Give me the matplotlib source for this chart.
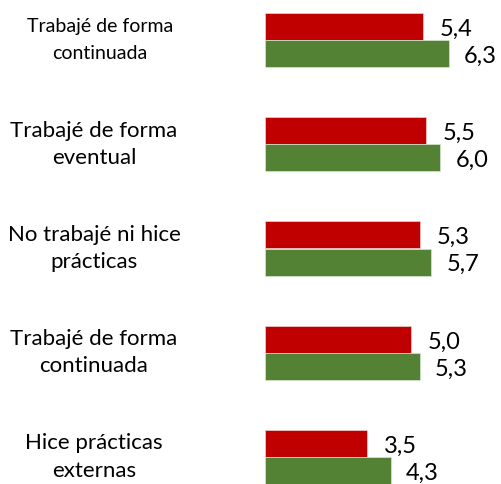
import matplotlib.pyplot as plt
import matplotlib.transforms as mtransforms
import numpy as np

plt.rcParams['font.family'] = ['Lato', 'DejaVu Sans']

categorias = ["Trabajé de forma\ncontinuada",
              "Trabajé de forma\neventual",
              "No trabajé ni hice\nprácticas",
              "Trabajé de forma\ncontinuada",
              "Hice prácticas\nexternas"]
serie_roja = [5.4, 5.5, 5.3, 5.0, 3.5]
serie_verde = [6.3, 6.0, 5.7, 5.3, 4.3]
tam_etiqueta = [14, 16, 16, 16, 16]
interlineado = [1.75, 1.45, 1.45, 1.45, 1.45]
centro_x = [100, 94, 94, 94, 94]

rojo = '#C00000'
verde = '#548235'

fig = plt.figure(figsize=(5.01, 4.84), dpi=100)
ax = fig.add_axes([265 / 501, 0, 1 - 265 / 501, 1])

y = np.arange(len(categorias))
h = 0.26
ax.barh(y - h / 2, serie_roja, height=h, color=rojo, edgecolor='#f0d0d0', linewidth=0.5)
ax.barh(y + h / 2, serie_verde, height=h, color=verde, edgecolor='#d8e6d0', linewidth=0.5)

ax.set_xlim(0, (501 - 265) / 29.2)
ax.set_ylim((484 - 40) / 104.25, -40 / 104.25)
ax.axis('off')

for i in y:
    ax.annotate(f"{serie_roja[i]:.1f}".replace('.', ','), (serie_roja[i], i - h / 2),
                xytext=(12, -2), textcoords='offset points', va='center', ha='left', fontsize=17)
    ax.annotate(f"{serie_verde[i]:.1f}".replace('.', ','), (serie_verde[i], i + h / 2),
                xytext=(11, -2), textcoords='offset points', va='center', ha='left', fontsize=17)

# etiquetas de categoría a la izquierda, centradas
trans = mtransforms.blended_transform_factory(fig.transFigure, ax.transData)
for i, txt in enumerate(categorias):
    ax.text(centro_x[i] / 501, i, txt, transform=trans, ha='center', va='center',
            fontsize=tam_etiqueta[i], linespacing=interlineado[i], clip_on=False)

fig.savefig('out.png', dpi=100)
